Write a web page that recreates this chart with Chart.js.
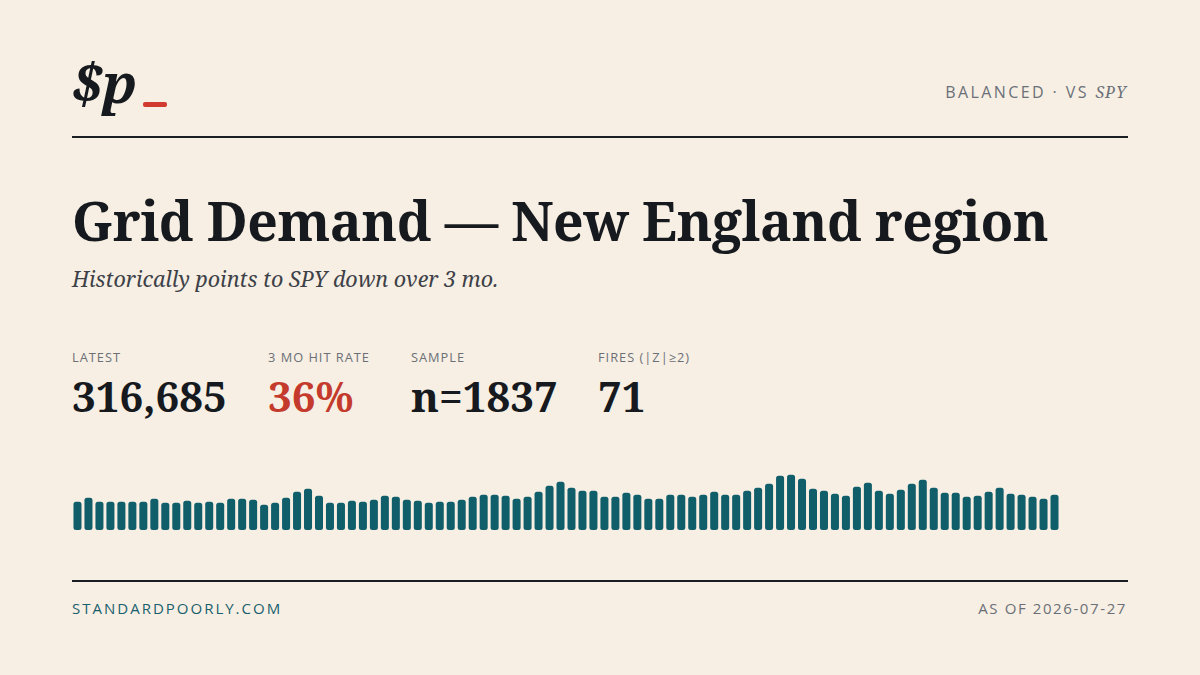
<!DOCTYPE html>
<html>
<head>
<meta charset="utf-8">
<script src="https://cdn.jsdelivr.net/npm/chart.js@4"></script>
<style>
    html, body { margin: 0; padding: 0; }
    body {
        width: 1200px; height: 675px; overflow: hidden;
        background: #f7efe3; position: relative;
        font-family: "Open Sans", "Noto Sans", sans-serif;
        color: #16191d;
    }
    .serif { font-family: "Noto Serif", "DejaVu Serif", serif; }
    .abs { position: absolute; }
    .logo { left: 72px; top: 54px; font-size: 55px; font-weight: 700; font-style: italic; line-height: 1; }
    .logo-bar { left: 143px; top: 102px; width: 24px; height: 5px; background: #d03a2f; border-radius: 2px; }
    .tag { right: 73px; top: 81px; font-size: 16px; letter-spacing: 2.4px; color: #6b7078; }
    .tag i { font-family: "Noto Serif", "DejaVu Serif", serif; letter-spacing: 1px; }
    .rule { left: 72px; width: 1056px; height: 2px; background: #1a1d21; }
    .title { left: 72px; top: 184px; font-size: 53.5px; font-weight: 700; white-space: nowrap; letter-spacing: -0.4px; }
    .sub { left: 72px; top: 264px; font-size: 21.5px; font-style: italic; color: #3d4148; }
    .lbl { top: 348px; font-size: 12.8px; letter-spacing: 1px; color: #6b7078; }
    .val { top: 367px; font-size: 42px; font-weight: 700; }
    .red { color: #c43a2c; }
    .foot { top: 598px; font-size: 15px; letter-spacing: 2px; }
    #wrap { position: absolute; left: 72px; top: 470px; width: 988px; height: 60px; }
</style>
</head>
<body>
<div class="abs logo serif">$p</div>
<div class="abs logo-bar"></div>
<div class="abs tag">BALANCED · VS <i>SPY</i></div>
<div class="abs rule" style="top:136px"></div>

<div class="abs title serif">Grid Demand — New England region</div>
<div class="abs sub serif">Historically points to SPY down over 3 mo.</div>

<div class="abs lbl" style="left:72px">LATEST</div>
<div class="abs lbl" style="left:268px">3 MO HIT RATE</div>
<div class="abs lbl" style="left:411px">SAMPLE</div>
<div class="abs lbl" style="left:598px">FIRES (|Z|≥2)</div>
<div class="abs val serif" style="left:72px" id="latest"></div>
<div class="abs val serif red" style="left:268px" id="hit"></div>
<div class="abs val serif" style="left:411px" id="sample"></div>
<div class="abs val serif" style="left:598px" id="fires"></div>

<div id="wrap"><canvas id="bars"></canvas></div>

<div class="abs rule" style="top:580px"></div>
<div class="abs foot" style="left:72px; color:#1a5f6e">STANDARDPOORLY.COM</div>
<div class="abs foot" style="right:73px; color:#6b7078; letter-spacing:1.6px">AS OF 2026-07-27</div>

<script>
// weekly demand readings, oldest first (last one = latest)
const demand = [
    254000, 290000, 254000, 254000, 254000, 254000, 254000, 281000, 245000, 245000,
    263000, 245000, 254000, 245000, 281000, 281000, 272000, 227000, 245000, 290000,
    344000, 370000, 308000, 245000, 245000, 263000, 254000, 272000, 308000, 299000,
    272000, 263000, 245000, 254000, 254000, 272000, 299000, 317000, 317000, 308000,
    281000, 299000, 344000, 397000, 433000, 379000, 353000, 353000, 299000, 299000,
    335000, 317000, 281000, 281000, 317000, 317000, 299000, 317000, 344000, 317000,
    317000, 353000, 379000, 415000, 487000, 496000, 460000, 370000, 353000, 326000,
    308000, 388000, 424000, 353000, 326000, 361000, 415000, 451000, 379000, 335000,
    335000, 299000, 308000, 344000, 379000, 326000, 317000, 299000, 281000, 316685
];
const weeks = demand.map((v, i) => "w" + (i + 1));

const latest = demand[demand.length - 1];
const hitRate = 36;
const sampleSize = 1837;
const fires = 71;

document.getElementById("latest").textContent = latest.toLocaleString("en-US");
document.getElementById("hit").textContent = hitRate + "%";
document.getElementById("sample").textContent = "n=" + sampleSize;
document.getElementById("fires").textContent = fires;

const ctx = document.getElementById("bars").getContext("2d");
new Chart(ctx, {
    type: "bar",
    data: {
        labels: weeks,
        datasets: [{
            data: demand,
            backgroundColor: "#115e6b",
            borderRadius: 2.5,
            borderSkipped: false,
            categoryPercentage: 1,
            barPercentage: 0.73
        }]
    },
    options: {
        responsive: true,
        maintainAspectRatio: false,
        animation: false,
        layout: { padding: 0 },
        plugins: { legend: { display: false }, tooltip: { enabled: false } },
        scales: {
            x: { display: false },
            y: { display: false, min: 0, max: 538000 }
        }
    }
});
</script>
</body>
</html>
